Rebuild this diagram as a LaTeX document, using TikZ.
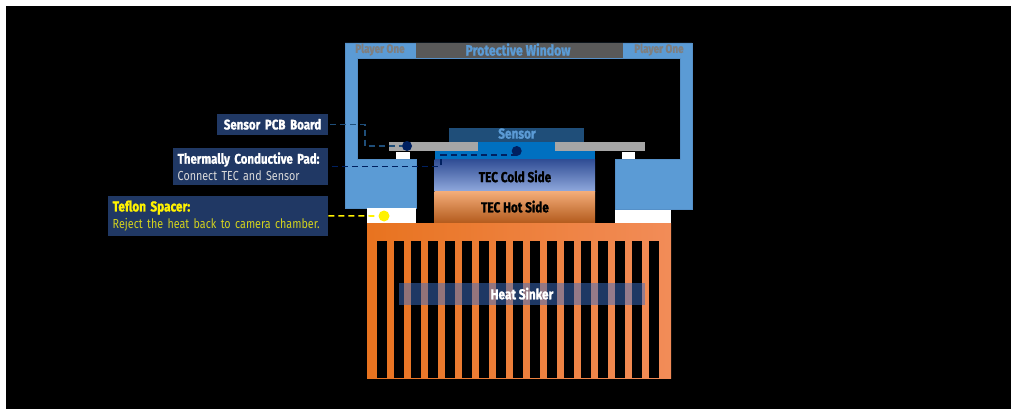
\documentclass[tikz,border=0pt]{standalone}
\usepackage{fontspec}
\setmainfont[FakeStretch=0.82,BoldFeatures={FakeBold=1.2}]{Fira Sans}
\usetikzlibrary{calc}
\definecolor{housing}{HTML}{5B9BD5}
\definecolor{housingedge}{HTML}{5590C8}
\definecolor{labelfill}{HTML}{203864}
\definecolor{padblue}{HTML}{0070C0}
\definecolor{sensorblue}{HTML}{1F4E79}
\definecolor{dotblue}{HTML}{002060}
\definecolor{pcbgray}{HTML}{A6A6A6}
\definecolor{windowgray}{HTML}{595959}
\definecolor{brandgray}{HTML}{7F7F7F}
\definecolor{sinkleft}{HTML}{E8731F}
\definecolor{sinkmid}{HTML}{F58030}
\definecolor{sinkright}{HTML}{F28C58}
\definecolor{dimyellow}{HTML}{D2D21E}
\begin{document}
\begin{tikzpicture}[x=1pt,y=-1pt,font=\fontsize{13.1}{17}\selectfont,
  part/.style={font=\fontsize{14.4}{16}\selectfont\bfseries,inner sep=0pt},
  labelbox/.style={fill=labelfill,text=white,anchor=west,inner sep=4.5pt,align=left,font=\fontsize{13.1}{16.8}\selectfont},
  leader/.style={line width=1.3pt,dash pattern=on 6pt off 4pt},
  dot/.style={circle,fill=dotblue,minimum size=10pt,inner sep=0pt}]

\useasboundingbox (0,0) rectangle (1011,409);
\fill[black] (6,6) rectangle (1011,409);

\coordinate (pcbbend) at (365,146);
\coordinate (padbend) at (441,155);

\fill[housing,draw=housingedge,line width=.5pt] (345,43) -- (692,43) -- (692,209) -- (615,209) -- (615,159) -- (680,159) -- (680,58) -- (357,58) -- (357,159) -- (416,159) -- (416,208) -- (345,208) -- cycle;
\fill[windowgray] (416,43) rectangle (623,58);

\fill[white] (367,208) rectangle (416,223);
\fill[white] (615,210) rectangle (671,224);
\fill[white] (396,152) rectangle (410,159);
\fill[white] (622,152) rectangle (635,159);

\shade[top color={rgb,255:red,47;green,76;blue,148},bottom color={rgb,255:red,143;green,168;blue,220}] (434.7,159) rectangle (595,191);
\shade[top color={rgb,255:red,244;green,174;blue,122},bottom color={rgb,255:red,179;green,90;blue,28}] (434.7,191) rectangle (595,223);

\fill[padblue] (434.7,151) rectangle (595,159);
\fill[padblue] (477.7,142) rectangle (555,151);
\fill[sensorblue] (449,127.5) rectangle (584,142);
\fill[pcbgray] (388.7,141.7) rectangle (477.7,150.7);
\fill[pcbgray] (555,141.7) rectangle (645,150.7);

\shade[left color=sinkleft,middle color=sinkmid,right color=sinkright] (367,223) rectangle (671,378);
\foreach \i in {0,...,16}
  \fill[black] ({377.3+17*\i},241) rectangle ({387.3+17*\i},378);
\fill[fill={rgb,255:red,61;green,112;blue,200},opacity=.5] (399,283) rectangle (645,305);

\node[part,text=brandgray,font=\fontsize{12.2}{14}\selectfont\bfseries] (brandleft) at (380,49.6) {Player One};
\node[part,text=brandgray,font=\fontsize{12.2}{14}\selectfont\bfseries] (brandright) at (659,49.6) {Player One};
\node[part,text=housing,font=\fontsize{15}{16}\selectfont\bfseries] (window) at (518,49.6) {Protective Window};
\node[part,text=housing] (sensor) at (517,133.6) {Sensor};
\node[part,text=black] (cold) at (515,176.4) {TEC Cold Side};
\node[part,text=black] (hot) at (515,206.6) {TEC Hot Side};
\node[part,text=white] (sinker) at (522,293.6) {Heat Sinker};

\node[labelbox,minimum height=20.5pt,text width=102.3pt,align=center,font=\fontsize{14}{16}\selectfont] (pcblabel) at (216.7,124.3) {\bfseries Sensor PCB Board};
\node[labelbox,text width=146pt] (padlabel) at (173,166.5) {{\fontsize{14}{16}\selectfont\bfseries Thermally Conductive Pad:}\\[0pt]{\color{white!85!black}Connect TEC and Sensor}};
\node[labelbox,text width=211pt] (teflonlabel) at (108,215.8) {{\fontsize{14.4}{16}\selectfont\bfseries\color{yellow}Teflon Spacer:}\\{\color{dimyellow}Reject the heat back to camera chamber.}};

\node[dot] (pcbdot) at (407,146) {};
\node[dot] (paddot) at (516.7,151) {};
\node[dot,fill=yellow,minimum size=11pt] (teflondot) at (384,216) {};

\draw[leader,draw=sensorblue,shorten <=2pt] (pcblabel.east) -| (pcbbend) -- (pcbdot);
\draw[leader,draw=dotblue,shorten <=4pt] (padlabel.east) -| (padbend) -- (padbend -| paddot);
\draw[leader,draw=yellow,line width=1.6pt] (teflonlabel.east) -- (teflondot);

\end{tikzpicture}
\end{document}
